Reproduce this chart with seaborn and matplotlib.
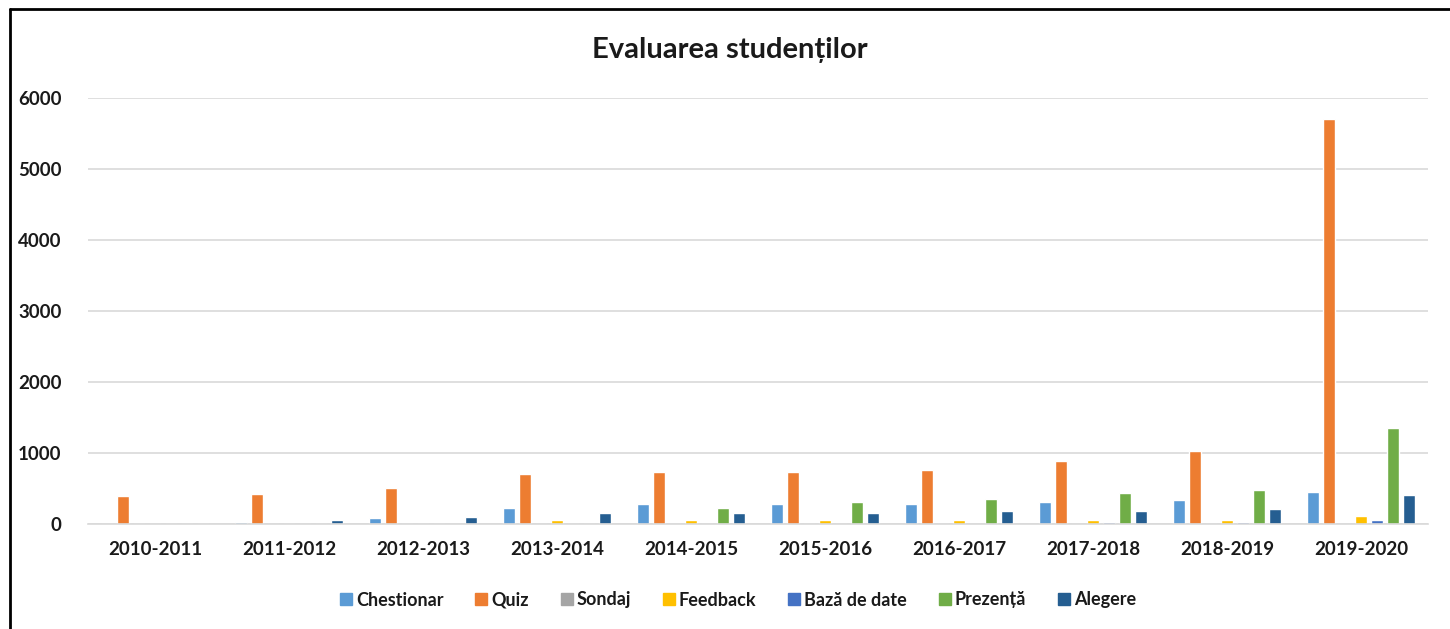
import matplotlib
matplotlib.use("Agg")
import matplotlib.pyplot as plt
import seaborn as sns
import pandas as pd
from matplotlib.lines import Line2D

years = ["2010-2011", "2011-2012", "2012-2013", "2013-2014", "2014-2015",
         "2015-2016", "2016-2017", "2017-2018", "2018-2019", "2019-2020"]
series_names = ["Chestionar", "Quiz", "Sondaj", "Feedback", "Bază de date", "Prezență", "Alegere"]

chestionar = [0, 30, 80, 230, 277, 277, 282, 310, 332, 455]
quiz = [400, 427, 505, 705, 732, 732, 760, 881, 1032, 5700]
sondaj = [0, 0, 0, 0, 0, 0, 0, 0, 0, 0]
feedback = [0, 0, 0, 50, 50, 50, 55, 55, 55, 107]
baza_de_date = [0, 0, 0, 0, 0, 0, 0, 30, 30, 55]
prezenta = [0, 0, 0, 0, 230, 304, 356, 431, 479, 1352]
alegere = [0, 50, 105, 150, 150, 155, 183, 183, 211, 408]

colors = ["#5B9BD5", "#ED7D31", "#A5A5A5", "#FFC000", "#4472C4", "#70AD47", "#255E91"]

values = [chestionar, quiz, sondaj, feedback, baza_de_date, prezenta, alegere]
rows = []
for name, vals in zip(series_names, values):
    for y, v in zip(years, vals):
        rows.append({"An": y, "Serie": name, "Valoare": v})
df = pd.DataFrame(rows)

sns.set_style("white")
plt.rcParams['font.family'] = ['Lato', 'DejaVu Sans']

fig = plt.figure(figsize=(14.5, 6.29), dpi=100)
ax = fig.add_axes([88/1450, 1-524/629, 1340/1450, (524-98)/629])

sns.barplot(data=df, x="An", y="Valoare", hue="Serie", order=years,
            hue_order=series_names, palette=colors, width=0.836, gap=0.25,
            saturation=1, ax=ax, legend=False)

ax.set_ylim(0, 6000)
ax.set_xlim(-0.5, 9.5)
ax.set_yticks(range(0, 6001, 1000))
ax.yaxis.grid(True, color="#d9d9d9", linewidth=1.2)
ax.set_axisbelow(True)
for s in ["top", "right", "left"]:
    ax.spines[s].set_visible(False)
ax.spines["bottom"].set_color("#d9d9d9")
ax.spines["bottom"].set_linewidth(1.2)
ax.tick_params(axis="both", length=0)
ax.tick_params(axis="y", pad=19)
ax.tick_params(axis="x", pad=12)
ax.set_xlabel("")
ax.set_ylabel("")
for lab in ax.get_yticklabels() + ax.get_xticklabels():
    lab.set_fontweight("bold")
    lab.set_fontsize(13.5)
    lab.set_color("#1a1a1a")

fig.text(0.503, 1-50/629, "Evaluarea studenților", ha="center", va="center",
         fontsize=21, fontweight="bold", color="#1a1a1a")

handles = [Line2D([0], [0], marker="s", linestyle="", markersize=8,
                  markerfacecolor=c, markeredgecolor=c) for c in colors]
leg = fig.legend(handles, series_names, loc="center", bbox_to_anchor=(0.508, 1-600/629),
                 ncol=7, frameon=False, handletextpad=0.05, columnspacing=1.6,
                 handlelength=1.0, prop={"weight": "bold", "size": 13})
for t in leg.get_texts():
    t.set_color("#1a1a1a")

# outer frame (left and top edges visible)
fig.add_artist(Line2D([10/1450, 10/1450], [0, 1-9/629], color="black", linewidth=2, transform=fig.transFigure))
fig.add_artist(Line2D([10/1450, 1], [1-9/629, 1-9/629], color="black", linewidth=2, transform=fig.transFigure))

fig.savefig("out.png", dpi=100)
